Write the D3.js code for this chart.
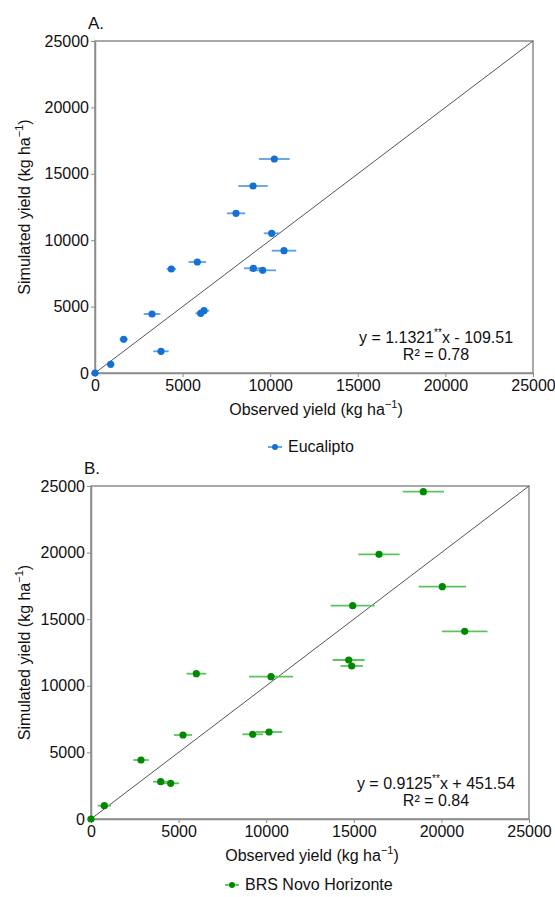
<!DOCTYPE html>
<html>
<head>
<meta charset="utf-8">
<script src="https://cdn.jsdelivr.net/npm/d3@7"></script>
<style>
  body { margin: 0; background: #fff; }
  svg { font-family: "Liberation Sans", Arial, sans-serif; }
</style>
</head>
<body>
<svg id="chart" width="555" height="897"></svg>
<script>
// panel A - Eucalipto
var obsA = [0, 894, 1636, 3254, 3767, 4357, 5841, 6031, 6222, 8049, 9019, 10236, 10084, 10788, 9037, 9570];
var simA = [0, 654, 2537, 4443, 1634, 7831, 8358, 4495, 4691, 12025, 14081, 16114, 10519, 9211, 7884, 7733];
var errA = [0, 210, 230, 475, 440, 270, 500, 300, 300, 520, 840, 880, 450, 700, 530, 760];

// panel B - BRS Novo Horizonte
var obsB = [0, 760, 2854, 3978, 4549, 5251, 6012, 10274, 9228, 10160, 14709, 14880, 18969, 16439, 20052, 14937, 21330];
var simB = [0, 1000, 4430, 2800, 2680, 6307, 10910, 10684, 6359, 6532, 11938, 11487, 24574, 19874, 17441, 16015, 14093];
var errB = [0, 380, 440, 440, 480, 520, 560, 1255, 590, 750, 910, 640, 1180, 1180, 1350, 1260, 1300];

var tickVals = [0, 5000, 10000, 15000, 20000, 25000];

var svg = d3.select("#chart");

function drawPanel(opt) {
	var x = d3.scaleLinear().domain([0, 25000]).range([opt.left, opt.right]);
	var y = d3.scaleLinear().domain([0, 25000]).range([opt.bottom, opt.top]);
	var g = svg.append("g");

	// frame
	g.append("rect").attr("x", opt.left).attr("y", opt.top)
		.attr("width", opt.right - opt.left).attr("height", opt.bottom - opt.top)
		.attr("fill", "none").attr("stroke", "#8c8c8c").attr("stroke-width", 1.5);

	var xAxis = g.append("g").attr("transform", "translate(0," + opt.bottom + ")")
		.call(d3.axisBottom(x).tickValues(tickVals).tickSize(4).tickSizeOuter(0).tickPadding(3).tickFormat(d3.format("d")));
	var yAxis = g.append("g").attr("transform", "translate(" + opt.left + ",0)")
		.call(d3.axisLeft(y).tickValues(tickVals).tickSize(4).tickSizeOuter(0).tickPadding(2).tickFormat(d3.format("d")));
	[xAxis, yAxis].forEach(function(a) {
		a.select(".domain").attr("stroke", "#8c8c8c").attr("stroke-width", 1.5);
		a.selectAll(".tick line").attr("stroke", "#8c8c8c");
		a.selectAll(".tick text").attr("fill", "#111").attr("font-size", 16);
	});

	// 1:1 line
	g.append("line").attr("x1", x(0)).attr("y1", y(0)).attr("x2", x(25000)).attr("y2", y(25000))
		.attr("stroke", "#555").attr("stroke-width", 1);

	// error bars
	g.selectAll(".err").data(opt.obs).enter().append("line")
		.attr("x1", function(d, i) { return x(d - opt.err[i]); })
		.attr("x2", function(d, i) { return x(d + opt.err[i]); })
		.attr("y1", function(d, i) { return y(opt.sim[i]); })
		.attr("y2", function(d, i) { return y(opt.sim[i]); })
		.attr("stroke", opt.light).attr("stroke-width", 1.8);

	g.selectAll(".pt").data(opt.obs).enter().append("circle")
		.attr("cx", function(d) { return x(d); })
		.attr("cy", function(d, i) { return y(opt.sim[i]); })
		.attr("r", 3.6).attr("fill", opt.color);

	// panel letter
	g.append("text").attr("x", opt.left - 7).attr("y", opt.top - 12)
		.attr("font-size", 17).attr("fill", "#111").text(opt.letter);

	// axis titles
	var xt = g.append("text").attr("x", (opt.left + opt.right) / 2 + 2).attr("y", opt.bottom + 42)
		.attr("text-anchor", "middle").attr("font-size", 16).attr("fill", "#111");
	xt.append("tspan").text("Observed yield (kg ha");
	xt.append("tspan").attr("font-size", 11).attr("dy", -7).text("\u22121");
	xt.append("tspan").attr("dy", 7).text(")");

	var cy = (opt.top + opt.bottom) / 2;
	var yt = g.append("text").attr("transform", "translate(30," + cy + ") rotate(-90)")
		.attr("text-anchor", "middle").attr("font-size", 16).attr("fill", "#111");
	yt.append("tspan").text("Simulated yield (kg ha");
	yt.append("tspan").attr("font-size", 11).attr("dy", -7).text("\u22121");
	yt.append("tspan").attr("dy", 7).text(")");

	// equation
	var eq = g.append("text").attr("x", 436).attr("y", opt.bottom - 30)
		.attr("text-anchor", "middle").attr("font-size", 16).attr("fill", "#111");
	eq.append("tspan").text("y = " + opt.slope);
	eq.append("tspan").attr("font-size", 10).attr("dy", -7).text("**");
	eq.append("tspan").attr("dy", 7).text("x " + opt.icept);
	g.append("text").attr("x", 436).attr("y", opt.bottom - 13)
		.attr("text-anchor", "middle").attr("font-size", 16).attr("fill", "#111")
		.text("R\u00b2 = " + opt.r2);

	// legend
	var lx = opt.legendX, ly = opt.bottom + opt.legendDy;
	g.append("line").attr("x1", lx - 7).attr("x2", lx + 7).attr("y1", ly - 5).attr("y2", ly - 5)
		.attr("stroke", opt.light).attr("stroke-width", 1.8);
	g.append("circle").attr("cx", lx).attr("cy", ly - 5).attr("r", 3).attr("fill", opt.color);
	g.append("text").attr("x", lx + 13).attr("y", ly).attr("font-size", 16).attr("fill", "#111").text(opt.name);
}

drawPanel({left: 95, right: 533, top: 41, bottom: 373, letter: "A.",
	obs: obsA, sim: simA, err: errA, color: "#1570d4", light: "#5b9fe6",
	slope: "1.1321", icept: "- 109.51", r2: "0.78", name: "Eucalipto", legendX: 275, legendDy: 79});
drawPanel({left: 91, right: 529, top: 486, bottom: 819, letter: "B.",
	obs: obsB, sim: simB, err: errB, color: "#008a00", light: "#5cc45c",
	slope: "0.9125", icept: "+ 451.54", r2: "0.84", name: "BRS Novo Horizonte", legendX: 232, legendDy: 71});
</script>
</body>
</html>
